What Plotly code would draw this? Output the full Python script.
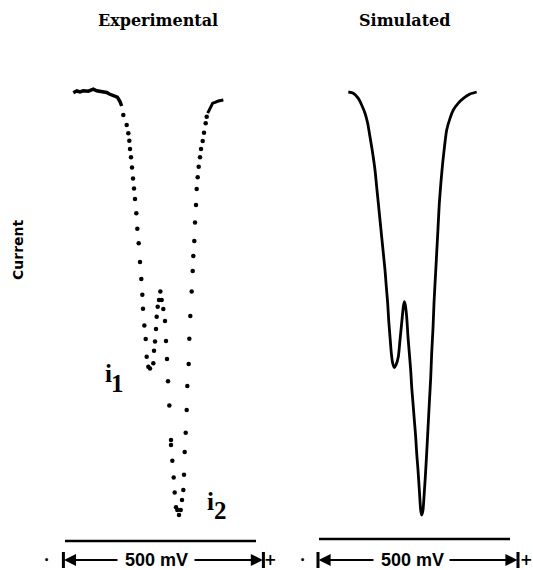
import plotly.graph_objects as go

# ---- Experimental voltammogram (potential in mV, current in arbitrary units) ----
# pen trace before the sweep
exp_lead_in_mv = [20.8, 29.2, 37.5, 45.8, 58.3, 70.8, 79.2, 91.7, 104.2, 110.8, 120.8, 130.8, 137.5, 141.7]
exp_lead_in_cur = [-0.2, 0.25, 0.0, 0.3, 0.2, 0.7, 0.3, 0.0, -0.1, -0.5, -1.0, -1.3, -2.4, -3.5]

# sampled points of the sweep
exp_mv = [145.8, 154.2, 158.3, 160.8, 162.5, 165.0, 167.5, 170.0, 172.5, 175.0,
          178.3, 180.8, 184.2, 187.5, 190.8, 193.3, 195.0, 198.3, 201.7, 204.2,
          208.3, 212.5, 220.8, 222.5, 225.0, 227.5, 229.2, 231.7, 235.0, 238.3,
          241.7, 245.8, 250.0, 252.5, 255.0, 257.5, 260.8, 265.0, 265.0, 268.3,
          271.7, 274.2, 277.5, 280.8, 285.0, 289.2, 292.5, 295.8, 297.5, 299.2,
          301.7, 304.2, 305.8, 309.2, 310.8, 313.3, 316.7, 319.2, 320.8, 323.3,
          325.0, 327.5, 329.2, 331.7, 334.2, 337.5, 340.0, 344.2, 347.5, 351.7,
          354.2]
exp_cur = [-5.75, -8.25, -10.3, -12.2, -14.25, -16.3, -18.9, -21.6, -24.1, -26.75,
           -30.3, -34.2, -37.8, -42.5, -46.75, -50.7, -54.2, -58.4, -61.75, -66.2,
           -68.7, -69.1, -67.8, -64.7, -62.4, -59.25, -56.2, -53.7, -52.0, -49.9,
           -52.0, -54.25, -57.25, -62.25, -66.75, -72.3, -78.4, -87.0, -88.25, -92.2,
           -96.4, -100.1, -103.8, -104.5, -105.75, -104.5, -102.0, -99.5, -95.7, -90.0,
           -85.2, -79.5, -73.5, -68.0, -61.7, -56.0, -49.9, -44.75, -41.0, -37.25,
           -32.6, -28.25, -24.25, -21.3, -18.7, -16.3, -14.25, -12.25, -10.2, -7.8,
           -6.2]

# pen trace after the sweep
exp_lead_out_mv = [356.7, 362.5, 369.2, 375.0, 383.3, 395.8]
exp_lead_out_cur = [-5.3, -4.1, -2.8, -2.6, -2.25, -2.0]

# ---- Simulated voltammogram ----
sim_mv = [83.3, 95.8, 108.3, 116.7, 125.0, 131.7, 137.5, 144.2, 150.0, 154.2,
          158.3, 162.5, 166.7, 170.8, 175.0, 178.3, 181.7, 184.2, 187.5, 190.8,
          194.2, 198.3, 202.5, 208.3, 212.5, 216.7, 220.8, 223.3, 225.8, 229.2,
          232.5, 235.8, 239.2, 241.7, 245.0, 248.3, 251.7, 254.2, 257.5, 260.8,
          264.2, 266.7, 270.0, 272.5, 275.8, 279.2, 282.5, 285.8, 289.2, 291.7,
          295.0, 297.5, 300.8, 304.2, 307.5, 310.8, 315.0, 319.2, 324.2, 329.2,
          337.5, 345.8, 358.3, 370.8, 387.5, 404.2]
sim_cur = [0.0, -0.3, -1.6, -3.25, -5.3, -7.8, -11.2, -15.3, -19.5, -23.7,
           -27.8, -32.0, -36.2, -40.3, -44.5, -48.7, -52.8, -57.0, -61.2, -65.3,
           -67.8, -68.9, -68.25, -66.2, -62.0, -57.8, -53.7, -52.4, -53.25, -56.2,
           -61.2, -65.3, -69.5, -73.7, -77.8, -82.0, -86.2, -90.3, -94.5, -99.5,
           -104.5, -105.75, -104.5, -101.2, -96.2, -90.3, -84.1, -77.8, -71.6, -65.3,
           -59.1, -52.8, -46.6, -40.3, -34.1, -27.8, -22.4, -17.8, -13.25, -9.5,
           -6.6, -4.5, -2.8, -1.6, -0.5, 0.0]

panel_titles = ["Experimental", "Simulated"]
scale_label = "500 mV"
scale_span_mv = 500

INK = "black"
SERIF = "DejaVu Serif"
SANS = "DejaVu Sans"
NARROW = "Liberation Sans Narrow, Liberation Sans, Arial"

fig = go.Figure()

fig.add_trace(go.Scatter(x=exp_lead_in_mv, y=exp_lead_in_cur, mode="lines",
                         line=dict(color=INK, width=3.5), xaxis="x", yaxis="y",
                         hoverinfo="skip"))
fig.add_trace(go.Scatter(x=exp_mv, y=exp_cur, mode="markers",
                         marker=dict(color=INK, size=4.5, symbol="circle"),
                         xaxis="x", yaxis="y"))
fig.add_trace(go.Scatter(x=exp_lead_out_mv, y=exp_lead_out_cur, mode="lines",
                         line=dict(color=INK, width=3), xaxis="x", yaxis="y",
                         hoverinfo="skip"))
fig.add_trace(go.Scatter(x=sim_mv, y=sim_cur, mode="lines",
                         line=dict(color=INK, width=2.8, shape="spline", smoothing=0.6),
                         xaxis="x2", yaxis="y"))

hidden = dict(visible=False, showgrid=False, zeroline=False, fixedrange=True)
fig.update_layout(
    width=533, height=570, autosize=False,
    margin=dict(l=0, r=0, t=0, b=0),
    paper_bgcolor="white", plot_bgcolor="white",
    showlegend=False,
    xaxis=dict(domain=[0.0, 0.53], range=[-162.5, 543.7], anchor="y", **hidden),
    xaxis2=dict(domain=[0.5, 1.0], range=[-121.25, 545.0], anchor="y", **hidden),
    yaxis=dict(domain=[0.0, 1.0], range=[-119.5, 23.0], **hidden),
)

annotations = []
shapes = []

# panel titles
for title, xp in zip(panel_titles, [0.2964, 0.758]):
    annotations.append(dict(text=f"<b>{title}</b>", xref="paper", yref="paper",
                            x=xp, y=0.9649, xanchor="center", yanchor="middle",
                            showarrow=False,
                            font=dict(family=SERIF, size=16, color=INK)))

# vertical axis caption
annotations.append(dict(text="<b>Current</b>", xref="paper", yref="paper",
                        x=0.0338, y=0.5614, textangle=-90, showarrow=False,
                        xanchor="center", yanchor="middle",
                        font=dict(family=SANS, size=14, color=INK)))

# peak labels i1 and i2
for txt, xv, yv in [("i", 107.5, -70.25), ("1", 130.0, -72.75),
                    ("i", 362.5, -102.25), ("2", 387.5, -104.5)]:
    annotations.append(dict(text=f"<b>{txt}</b>", xref="x", yref="y", x=xv, y=yv,
                            showarrow=False, xanchor="center", yanchor="middle",
                            font=dict(family="Liberation Serif", size=25, color=INK)))

# baseline rule and 500 mV scale bar beneath each panel
panels = [
    dict(xr="x", rule=(0.0, 477.5, -112.25), bar0=-4.0, dot=-47.5, plus=514.0,
         text=227.5, left_tail=135.0, right_tail=320.0),
    dict(xr="x2", rule=(10.0, 487.5, -111.75), bar0=7.5, dot=-32.5, plus=528.0,
         text=242.5, left_tail=150.0, right_tail=332.5),
]
bar_y = -117.0
for p in panels:
    xr = p["xr"]
    r0, r1, ry = p["rule"]
    shapes.append(dict(type="line", xref=xr, yref="y", x0=r0, x1=r1, y0=ry, y1=ry,
                       line=dict(color=INK, width=2.5)))
    b0 = p["bar0"]
    b1 = b0 + scale_span_mv
    for bx in (b0, b1):
        shapes.append(dict(type="line", xref=xr, yref="y", x0=bx, x1=bx,
                           y0=-115.0, y1=-119.0, line=dict(color=INK, width=3)))
    # arrows pointing outward to the end ticks
    annotations.append(dict(text="", xref=xr, yref="y", axref=xr, ayref="y",
                            x=b0 + 1.5, y=bar_y, ax=p["left_tail"], ay=bar_y,
                            showarrow=True, arrowhead=2, arrowsize=1.2,
                            arrowwidth=2, arrowcolor=INK))
    annotations.append(dict(text="", xref=xr, yref="y", axref=xr, ayref="y",
                            x=b1 - 1.5, y=bar_y, ax=p["right_tail"], ay=bar_y,
                            showarrow=True, arrowhead=2, arrowsize=1.2,
                            arrowwidth=2, arrowcolor=INK))
    annotations.append(dict(text=f"<b>{scale_label}</b>", xref=xr, yref="y",
                            x=p["text"], y=bar_y, showarrow=False,
                            xanchor="center", yanchor="middle",
                            font=dict(family=NARROW, size=18, color=INK)))
    # polarity marks at either end of the scale
    annotations.append(dict(text="<b>•</b>", xref=xr, yref="y", x=p["dot"], y=bar_y,
                            showarrow=False, xanchor="center", yanchor="middle",
                            font=dict(family=SANS, size=8, color=INK)))
    annotations.append(dict(text="<b>+</b>", xref=xr, yref="y", x=p["plus"], y=bar_y,
                            showarrow=False, xanchor="center", yanchor="middle",
                            font=dict(family=SANS, size=15, color=INK)))

fig.update_layout(annotations=annotations, shapes=shapes)

fig.write_html("out.html")
